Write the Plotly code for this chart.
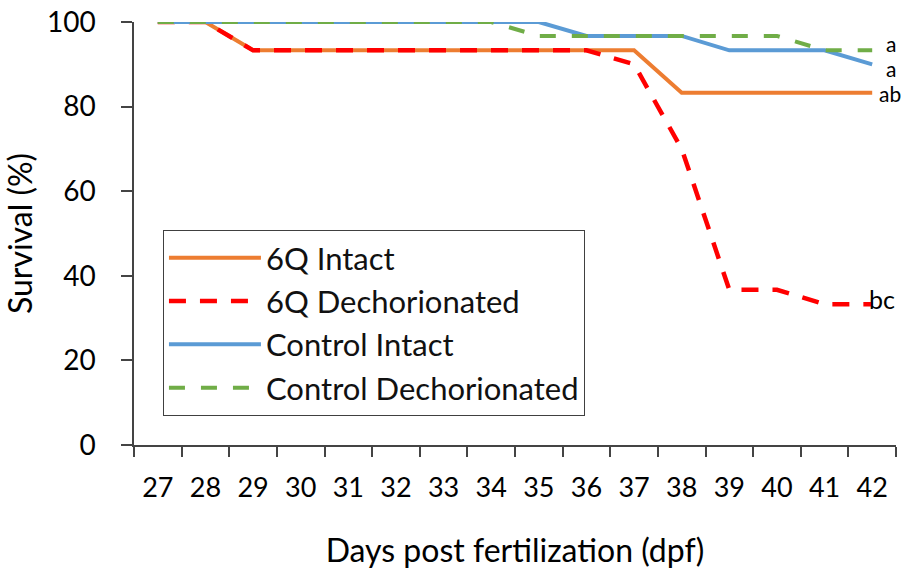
import plotly.graph_objects as go

days = ["27", "28", "29", "30", "31", "32", "33", "34", "35", "36", "37", "38", "39", "40", "41", "42"]
q6_intact = [100, 100, 93.3, 93.3, 93.3, 93.3, 93.3, 93.3, 93.3, 93.3, 93.3, 83.3, 83.3, 83.3, 83.3, 83.3]
q6_dechor = [100, 100, 93.3, 93.3, 93.3, 93.3, 93.3, 93.3, 93.3, 93.3, 90, 70, 36.7, 36.7, 33.3, 33.3]
ctrl_intact = [100, 100, 100, 100, 100, 100, 100, 100, 100, 96.7, 96.7, 96.7, 93.3, 93.3, 93.3, 90]
ctrl_dechor = [100, 100, 100, 100, 100, 100, 100, 100, 96.7, 96.7, 96.7, 96.7, 96.7, 96.7, 93.3, 93.3]
end_labels = ["a", "a", "ab", "bc"]

FONT = "Lato"

fig = go.Figure()
series = [
    ("6Q Intact", q6_intact, "#ED7D31", "solid", 4),
    ("6Q Dechorionated", q6_dechor, "#FF0000", "17px,14px", 4.5),
    ("Control Intact", ctrl_intact, "#5B9BD5", "solid", 4),
    ("Control Dechorionated", ctrl_dechor, "#70AD47", "16px,16px", 4),
]
for i, (name, vals, col, dash, w) in enumerate(series):
    fig.add_trace(go.Scatter(
        x=days, y=vals, name=name, mode="lines",
        line=dict(color=col, dash=dash, width=w),
        legendgroup=f"g{i}",
    ))

# end labels (x given as category index)
last = len(days) - 1
label_specs = [
    (ctrl_dechor[-1], end_labels[0], 12, 7, 21),
    (ctrl_intact[-1], end_labels[1], 12, -4, 21),
    (q6_intact[-1], end_labels[2], 5, -1, 21),
    (q6_dechor[-1], end_labels[3], -5, 5, 25),
]
for yv, txt, xs, ys, fs in label_specs:
    fig.add_annotation(x=last, y=yv, text=txt, showarrow=False,
                       xanchor="left", yanchor="middle", xshift=xs, yshift=ys,
                       font=dict(family=FONT, size=fs, color="black"))

fig.update_layout(
    width=907, height=569,
    margin=dict(l=134, r=11, t=22, b=124),
    paper_bgcolor="white", plot_bgcolor="white",
    font=dict(family=FONT, size=24, color="black"),
    showlegend=True,
    legend=dict(
        x=0.038, y=0.508, xanchor="left", yanchor="top",
        bgcolor="white", bordercolor="#404040", borderwidth=1,
        font=dict(family=FONT, size=31, color="#111"),
        tracegroupgap=0, itemwidth=92,
    ),
    xaxis=dict(
        type="category", range=[-0.5, 15.5], automargin=False,
        tickson="boundaries", ticks="outside", ticklen=10, tickwidth=1.5, tickcolor="#444",
        showline=True, linecolor="#444", linewidth=1.5, showgrid=False,
        ticklabelstandoff=18,
        tickfont=dict(family=FONT, size=27, color="black"),
        title=dict(text="Days post fertilization (dpf)", font=dict(family=FONT, size=32, color="black"), standoff=38),
    ),
    yaxis=dict(
        range=[0, 100], dtick=20, ticks="outside", ticklen=11, tickwidth=1.5, tickcolor="#444",
        showline=True, linecolor="#444", linewidth=1.5, showgrid=False, zeroline=False,
        automargin=False, ticklabelstandoff=20,
        tickfont=dict(family=FONT, size=28, color="black"),
        title=dict(text="Survival (%)", font=dict(family=FONT, size=32, color="black"), standoff=20),
    ),
)

fig.write_html("out.html")
